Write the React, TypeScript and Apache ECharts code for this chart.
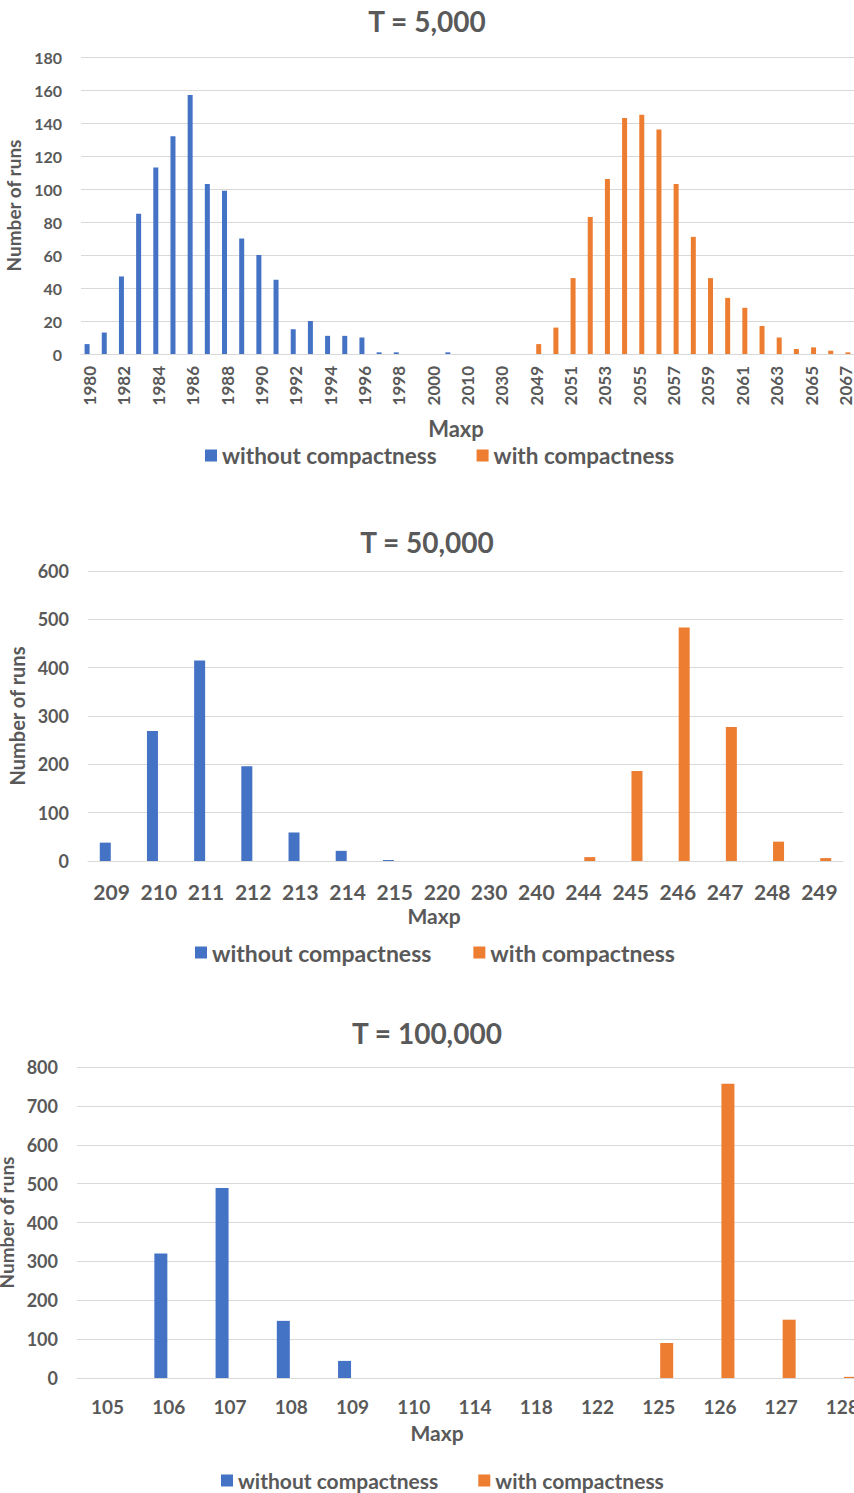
import React, { useEffect, useRef } from 'react';
import * as echarts from 'echarts';

const FONT = 'Lato, "Open Sans", sans-serif';
const TEXT = '#595959';
const BLUE = '#4472C4';
const ORANGE = '#ED7D31';
const GRID_LINE = '#d9d9d9';

const SERIES_NAMES = ['without compactness', 'with compactness'];

// T = 5,000
const t5Categories = [
  '1980', '1981', '1982', '1983', '1984', '1985', '1986', '1987', '1988', '1989',
  '1990', '1991', '1992', '1993', '1994', '1995', '1996', '1997', '1998', '1999',
  '2000', '2005', '2010', '2020', '2030', '2040',
  '2049', '2050', '2051', '2052', '2053', '2054', '2055', '2056', '2057', '2058',
  '2059', '2060', '2061', '2062', '2063', '2064', '2065', '2066', '2067',
];
const t5Without = [
  6, 13, 47, 85, 113, 132, 157, 103, 99, 70,
  60, 45, 15, 20, 11, 11, 10, 1, 1, 0,
  0, 1, 0, 0, 0, 0,
  0, 0, 0, 0, 0, 0, 0, 0, 0, 0,
  0, 0, 0, 0, 0, 0, 0, 0, 0,
];
const t5With = [
  0, 0, 0, 0, 0, 0, 0, 0, 0, 0,
  0, 0, 0, 0, 0, 0, 0, 0, 0, 0,
  0, 0, 0, 0, 0, 0,
  6, 16, 46, 83, 106, 143, 145, 136, 103, 71,
  46, 34, 28, 17, 10, 3, 4, 2, 1,
];

// T = 50,000
const t50Categories = ['209', '210', '211', '212', '213', '214', '215', '220', '230', '240', '244', '245', '246', '247', '248', '249'];
const t50Without = [38, 269, 415, 196, 59, 21, 2, 0, 0, 0, 0, 0, 0, 0, 0, 0];
const t50With = [0, 0, 0, 0, 0, 0, 0, 0, 0, 0, 8, 186, 483, 277, 40, 6];

// T = 100,000
const t100Categories = ['105', '106', '107', '108', '109', '110', '114', '118', '122', '125', '126', '127', '128'];
const t100Without = [0, 320, 489, 147, 44, 0, 0, 0, 0, 0, 0, 0, 0];
const t100With = [0, 0, 0, 0, 0, 0, 0, 0, 0, 90, 757, 150, 3];

interface Panel {
  title: string;
  titleTop: number;
  categories: string[];
  without: number[];
  withC: number[];
  grid: { left: number; top: number; width: number; height: number };
  yMax: number;
  yInterval: number;
  yFont: number;
  xFont: number;
  xRotate: number;
  xMargin: number;
  xInterval: number;
  nameGap: number;
  nameFont: number;
  barWidth: number;
  barGap: string;
  maxp: { x: number; y: number; size: number };
  legend: { left: number; top: number; size: number; gap: number };
}

const panels: Panel[] = [
  {
    title: 'T = 5,000',
    titleTop: 7,
    categories: t5Categories,
    without: t5Without,
    withC: t5With,
    grid: { left: 81, top: 57, width: 773, height: 297 },
    yMax: 180,
    yInterval: 20,
    yFont: 16,
    xFont: 17,
    xRotate: 90,
    xMargin: 12,
    xInterval: 1,
    nameGap: 55,
    nameFont: 19,
    barWidth: 5,
    barGap: '0%',
    maxp: { x: 456, y: 428, size: 22 },
    legend: { left: 205, top: 444, size: 22.5, gap: 40 },
  },
  {
    title: 'T = 50,000',
    titleTop: 528,
    categories: t50Categories,
    without: t50Without,
    withC: t50With,
    grid: { left: 88, top: 571, width: 755, height: 290 },
    yMax: 600,
    yInterval: 100,
    yFont: 18,
    xFont: 21,
    xRotate: 0,
    xMargin: 20,
    xInterval: 0,
    nameGap: 61,
    nameFont: 20,
    barWidth: 11,
    barGap: '15%',
    maxp: { x: 434, y: 915, size: 21 },
    legend: { left: 195, top: 941, size: 23, gap: 42 },
  },
  {
    title: 'T = 100,000',
    titleTop: 1019,
    categories: t100Categories,
    without: t100Without,
    withC: t100With,
    grid: { left: 77, top: 1067, width: 796, height: 311 },
    yMax: 800,
    yInterval: 100,
    yFont: 18,
    xFont: 19,
    xRotate: 0,
    xMargin: 19,
    xInterval: 0,
    nameGap: 55,
    nameFont: 19,
    barWidth: 13,
    barGap: '23%',
    maxp: { x: 437, y: 1432, size: 21 },
    legend: { left: 221, top: 1470, size: 21, gap: 40 },
  },
];

function buildOption(): echarts.EChartsOption {
  const titles: any[] = [];
  const grids: any[] = [];
  const xAxes: any[] = [];
  const yAxes: any[] = [];
  const series: any[] = [];
  const legends: any[] = [];
  const graphics: any[] = [];

  panels.forEach((p, i) => {
    titles.push({
      text: p.title,
      left: 'center',
      top: p.titleTop,
      padding: 0,
      textStyle: { fontFamily: FONT, fontSize: 28, fontWeight: 'bold', color: TEXT },
    });
    grids.push({ ...p.grid, containLabel: false, outerBoundsMode: 'none' });
    xAxes.push({
      type: 'category',
      gridIndex: i,
      data: p.categories,
      axisLine: { show: true, lineStyle: { color: GRID_LINE, width: 1 } },
      axisTick: { show: false },
      axisLabel: {
        interval: p.xInterval,
        rotate: p.xRotate,
        margin: p.xMargin,
        hideOverlap: false,
        fontFamily: FONT,
        fontSize: p.xFont,
        fontWeight: 'bold',
        color: TEXT,
      },
    });
    yAxes.push({
      type: 'value',
      gridIndex: i,
      min: 0,
      max: p.yMax,
      interval: p.yInterval,
      name: 'Number of runs',
      nameLocation: 'middle',
      nameGap: p.nameGap,
      nameTextStyle: { fontFamily: FONT, fontSize: p.nameFont, fontWeight: 'bold', color: TEXT },
      axisLine: { show: false },
      axisTick: { show: false },
      axisLabel: { margin: 19, fontFamily: FONT, fontSize: p.yFont, fontWeight: 'bold', color: TEXT },
      splitLine: { show: true, lineStyle: { color: GRID_LINE, width: 1 } },
    });
    series.push(
      {
        name: SERIES_NAMES[0],
        type: 'bar',
        xAxisIndex: i,
        yAxisIndex: i,
        data: p.without,
        barWidth: p.barWidth,
        barGap: p.barGap,
        itemStyle: { color: BLUE },
      },
      {
        name: SERIES_NAMES[1],
        type: 'bar',
        xAxisIndex: i,
        yAxisIndex: i,
        data: p.withC,
        barWidth: p.barWidth,
        barGap: p.barGap,
        itemStyle: { color: ORANGE },
      }
    );
    legends.push({
      data: SERIES_NAMES,
      left: p.legend.left,
      top: p.legend.top,
      padding: 0,
      icon: 'rect',
      itemWidth: 12,
      itemHeight: 12,
      itemGap: p.legend.gap,
      selectedMode: false,
      textStyle: { fontFamily: FONT, fontSize: p.legend.size, fontWeight: 'bold', color: TEXT },
    });
    graphics.push({
      type: 'text',
      x: p.maxp.x,
      y: p.maxp.y,
      style: {
        text: 'Maxp',
        fontFamily: FONT,
        fontSize: p.maxp.size,
        fontWeight: 'bold',
        fill: TEXT,
        textAlign: 'center',
        textVerticalAlign: 'middle',
      },
    });
  });

  return {
    animation: false,
    backgroundColor: '#ffffff',
    title: titles,
    grid: grids,
    xAxis: xAxes,
    yAxis: yAxes,
    legend: legends,
    series,
    graphic: graphics,
  } as echarts.EChartsOption;
}

export default function App() {
  const ref = useRef<HTMLDivElement>(null);

  useEffect(() => {
    if (!ref.current) return;
    const chart = echarts.init(ref.current, undefined, { renderer: 'svg' });
    chart.setOption(buildOption());
    return () => chart.dispose();
  }, []);

  return (
    <div
      ref={ref}
      style={{ position: 'absolute', left: 0, top: 0, width: 854, height: 1493, background: '#fff' }}
    />
  );
}
